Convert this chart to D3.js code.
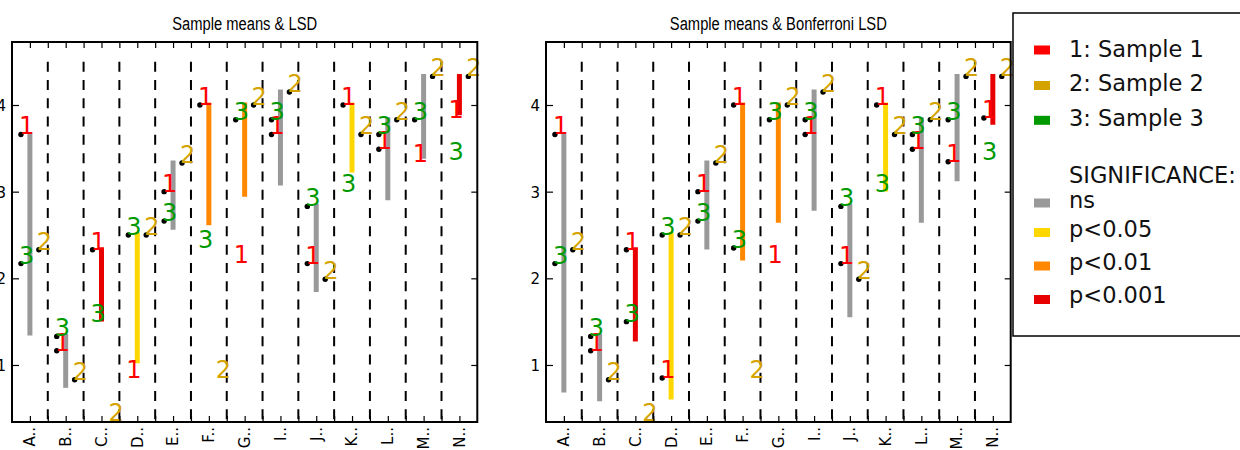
<!DOCTYPE html>
<html>
<head>
<meta charset="utf-8">
<title>Sample means &amp; LSD</title>
<style>
body { margin: 0; background: #fff; }
text { font-family: "DejaVu Sans", sans-serif; }
.title { font-family: "Liberation Sans Narrow", "Liberation Sans", Arial, sans-serif; font-size: 18px; }
.tick text { font-size: 15px; fill: #000; }
.tick line { stroke: #000; stroke-width: 1.2px; }
.sep { stroke: #000; stroke-width: 2px; stroke-dasharray: 10,8.3; fill: none; }
.frame { fill: none; stroke: #000; stroke-width: 2px; }
.bar { stroke-width: 5px; stroke-linecap: square; }
.lab { font-size: 24px; }
.legend text { font-size: 22.5px; fill: #111; }
</style>
</head>
<body>
<script src="https://cdnjs.cloudflare.com/ajax/libs/d3/7.8.5/d3.min.js"></script>
<script>

// categories and sample means
var cats = ["A..", "B..", "C..", "D..", "E..", "F..", "G..", "I..", "J..", "K..", "L..", "M..", "N.."];
var mean1 = [3.66, 1.165, 2.33, 0.85, 3.00, 4.00, 2.18, 3.66, 2.17, 4.00, 3.49, 3.345, 3.85];
var mean2 = [2.33, 0.83, 0.35, 2.50, 3.33, 0.85, 4.00, 4.15, 1.99, 3.66, 3.83, 4.33, 4.33];
var mean3 = [2.17, 1.33, 1.50, 2.50, 2.66, 2.35, 3.83, 3.83, 2.83, 3.00, 3.66, 3.83, 3.36];

// least significant difference per category
var lsd = [2.29, 0.565, 0.80, 1.45, 0.74, 1.36, 1.03, 1.05, 0.96, 0.75, 0.90, 0.92, 0.42];
var lsdBonf = [2.95, 0.72, 1.03, 1.87, 0.97, 1.765, 1.33, 1.34, 1.25, 0.97, 1.16, 1.18, 0.53];

var sig = ["ns", "ns", "p<0.001", "p<0.05", "ns", "p<0.01", "p<0.01", "ns", "ns", "p<0.05", "ns", "ns", "p<0.001"];
var sigBonf = ["ns", "ns", "p<0.001", "p<0.05", "ns", "p<0.01", "p<0.01", "ns", "ns", "p<0.05", "ns", "ns", "p<0.001"];

var yTicks = [1, 2, 3, 4];
var sampleNames = ["1: Sample 1", "2: Sample 2", "3: Sample 3"];
var sampleColors = ["#ff0000", "#d4a300", "#009a00"];
var sigLevels = ["ns", "p<0.05", "p<0.01", "p<0.001"];
var sigColors = ["#999999", "#ffd700", "#ff8800", "#e80000"];

var W = 1240, H = 450;
var axTop = 42, axBottom = 422;

var svg = d3.select("body").append("svg")
    .attr("width", W)
    .attr("height", H);

var y = d3.scaleLinear().domain([0.342, 4.727]).range([axBottom, axTop]);
var sigColor = d3.scaleOrdinal().domain(sigLevels).range(sigColors);

function drawPanel(x0, x1, title, lsdArr, sigArr) {
  var x = d3.scaleLinear().domain([-0.5, cats.length - 0.5]).range([x0, x1]);
  var g = svg.append("g");

  var clipId = "clip" + Math.round(x0);
  g.append("clipPath").attr("id", clipId)
    .append("rect").attr("x", x0).attr("y", axTop).attr("width", x1 - x0).attr("height", axBottom - axTop);

  var plot = g.append("g").attr("clip-path", "url(#" + clipId + ")");

  // dashed separators between categories
  plot.selectAll(".sep")
    .data(d3.range(0.5, cats.length - 0.5, 1))
    .enter().append("line")
      .attr("class", "sep")
      .attr("x1", function(d) { return x(d); })
      .attr("x2", function(d) { return x(d); })
      .attr("y1", y(4.5))
      .attr("y2", axBottom);

  var rows = cats.map(function(c, i) {
    var means = [mean1[i], mean2[i], mean3[i]];
    var mx = d3.max(means);
    return {i: i, means: means, hi: mx, low: mx - lsdArr[i], sig: sigArr[i]};
  });

  plot.selectAll(".bar")
    .data(rows)
    .enter().append("line")
      .attr("class", "bar")
      .attr("x1", function(d) { return x(d.i); })
      .attr("x2", function(d) { return x(d.i); })
      .attr("y1", function(d) { return y(d.hi); })
      .attr("y2", function(d) { return y(d.low); })
      .style("stroke", function(d) { return sigColor(d.sig); });

  // one point per sample; samples 1 and 3 sit left of centre, sample 2 right
  var pts = [];
  rows.forEach(function(r) {
    r.means.forEach(function(m, s) {
      pts.push({
        px: x(r.i + (s === 1 ? 0.25 : -0.25)),
        py: y(m),
        s: s,
        inside: m >= r.low - 1e-9
      });
    });
  });

  plot.selectAll(".dot")
    .data(pts.filter(function(d) { return d.inside; }))
    .enter().append("circle")
      .attr("class", "dot")
      .attr("cx", function(d) { return d.px; })
      .attr("cy", function(d) { return d.py; })
      .attr("r", 2.7)
      .style("fill", "#000");

  g.selectAll(".lab")
    .data(pts)
    .enter().append("text")
      .attr("class", "lab")
      .attr("x", function(d) { return d.px - 2; })
      .attr("y", function(d) { return d.py; })
      .style("fill", function(d) { return sampleColors[d.s]; })
      .text(function(d) { return d.s + 1; });

  // ticks on all four sides, pointing inward
  var halfSteps = d3.range(0, cats.length - 0.75, 0.5);
  g.append("g").attr("transform", "translate(0," + axBottom + ")")
    .call(d3.axisBottom(x).tickValues(halfSteps).tickSizeInner(-6).tickSizeOuter(0).tickFormat(""));
  g.append("g").attr("transform", "translate(0," + axTop + ")")
    .call(d3.axisTop(x).tickValues(halfSteps).tickSizeInner(-6).tickSizeOuter(0).tickFormat(""));
  g.append("g").attr("transform", "translate(" + x0 + ",0)")
    .call(d3.axisLeft(y).tickValues(yTicks).tickFormat(d3.format("d")).tickSizeInner(-7).tickSizeOuter(0).tickPadding(6));
  g.append("g").attr("transform", "translate(" + x1 + ",0)")
    .call(d3.axisRight(y).tickValues(yTicks).tickSizeInner(-6).tickSizeOuter(0).tickFormat(""));
  g.selectAll(".domain").remove();
  g.selectAll(".tick text").attr("dy", "0.36em");

  g.append("rect").attr("class", "frame")
    .attr("x", x0).attr("y", axTop).attr("width", x1 - x0).attr("height", axBottom - axTop);

  // rotated category labels
  g.selectAll(".xlab")
    .data(cats)
    .enter().append("text")
      .attr("class", "xlab")
      .attr("transform", function(d, i) {
        return "translate(" + x(i) + "," + (axBottom + 5) + ") rotate(-90)";
      })
      .attr("text-anchor", "end")
      .attr("dy", "0.36em")
      .style("font-size", "15px")
      .text(function(d) { return d; });

  var tw = title.length > 20 ? 217 : 145;
  g.append("text").attr("class", "title")
    .attr("x", (x0 + x1) / 2)
    .attr("y", 30)
    .attr("text-anchor", "middle")
    .attr("textLength", tw)
    .attr("lengthAdjust", "spacingAndGlyphs")
    .text(title);
}

drawPanel(12, 477.3, "Sample means & LSD", lsd, sig);
drawPanel(546, 1010.7, "Sample means & Bonferroni LSD", lsdBonf, sigBonf);

// legend
var leg = svg.append("g").attr("class", "legend");
leg.append("rect")
  .attr("x", 1013).attr("y", 13).attr("width", 260).attr("height", 323)
  .style("fill", "#fff").style("stroke", "#000").style("stroke-width", 1.5);

var legItems = [
  {color: sampleColors[0], lines: [sampleNames[0]], base: 56.7, patch: 50},
  {color: sampleColors[1], lines: [sampleNames[1]], base: 91, patch: 85.5},
  {color: sampleColors[2], lines: [sampleNames[2]], base: 125.7, patch: 120.3},
  {color: sigColors[0], lines: ["SIGNIFICANCE:", sigLevels[0]], base: 182.7, patch: 203},
  {color: sigColors[1], lines: [sigLevels[1]], base: 236.7, patch: 232.5},
  {color: sigColors[2], lines: [sigLevels[2]], base: 270, patch: 266},
  {color: sigColors[3], lines: [sigLevels[3]], base: 303.3, patch: 299.5}
];

legItems.forEach(function(it) {
  leg.append("rect")
    .attr("x", 1034).attr("y", it.patch - 4.5)
    .attr("width", 16).attr("height", 9)
    .style("fill", it.color);
  var t = leg.append("text").attr("x", 1069).attr("y", it.base);
  it.lines.forEach(function(l, k) {
    t.append("tspan").attr("x", 1069).attr("dy", k === 0 ? 0 : 25.6).text(l);
  });
});

</script>
</body>
</html>
